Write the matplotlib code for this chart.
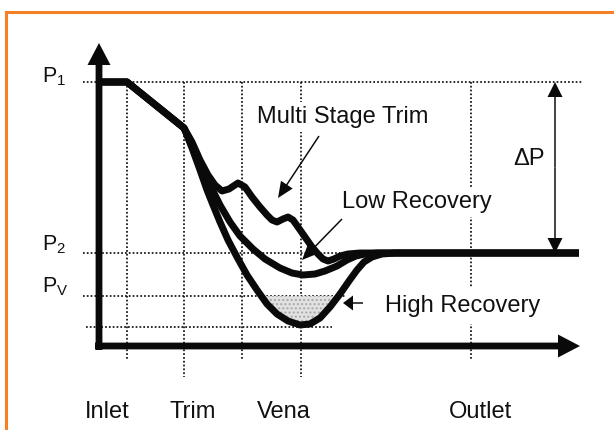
import matplotlib
matplotlib.use("Agg")
import matplotlib.pyplot as plt
from matplotlib.lines import Line2D

# ---------------- data (x = position along the valve, y = pressure, arbitrary units) ----------
# pressure levels
P1 = 264
P2 = 93
PV = 50
PMIN = 19

# stations (vertical dotted guides) and their lower ends
station_x = [28, 85, 143, 202, 372]
station_bottom = [-14, -31, -14, -31, -13]

# bottom labels
bottom_labels = ["Inlet", "Trim", "Vena", "Outlet"]
bottom_label_x = [8, 94, 185, 381]

# common inlet part of every profile
common_x = [0, 28, 85]
common_y = [264, 264, 218]

# multi stage trim profile
multi_x = [93, 101, 109, 116, 123, 130, 139, 146, 153, 161, 168, 173, 178, 184, 189, 194,
           199, 206, 213, 219, 224, 229, 235, 241, 249, 261, 480]
multi_y = [204, 186, 171, 161, 155, 157, 163, 159, 149, 139, 131, 126, 124, 127, 129, 126,
           119, 109, 99, 92, 87, 85, 87, 90, 92, 93, 93]

# low recovery profile
low_x = [93, 101, 111, 121, 131, 141, 154, 166, 181, 193, 204, 216, 226, 238, 248, 257,
         266, 279, 480]
low_y = [201, 183, 161, 141, 124, 110, 97, 87, 78, 73, 71, 72, 75, 80, 86, 90,
         92, 93, 93]

# high recovery profile
high_x = [93, 101, 108, 114, 121, 129, 138, 148, 158, 168, 178, 189, 201, 211, 221, 231,
          241, 250, 258, 265, 273, 283, 296, 480]
high_y = [198, 176, 156, 141, 124, 106, 89, 71, 56, 42, 32, 25, 21, 22, 28, 39,
          52, 65, 76, 84, 89, 92, 93, 93]

# dotted level guides: (level, x start, x end)
level_values = [P1, P2, PV, PMIN]
level_x0 = [-16, -16, -16, -13]
level_x1 = [483, 241, 246, 233]

# axis extents
x_axis_end = 481
y_axis_end = 303

# ---------------- figure ----------------
FONT = "Liberation Sans"
plt.rcParams["font.family"] = [FONT, "DejaVu Sans"]
plt.rcParams["mathtext.fontset"] = "custom"
plt.rcParams["mathtext.rm"] = FONT
plt.rcParams["mathtext.it"] = FONT + ":italic"

fig = plt.figure(figsize=(6.14, 4.30), dpi=100)
fig.patch.set_facecolor("white")
ax = fig.add_axes([0, 0, 1, 1])
ax.set_xlim(-99, 515)
ax.set_ylim(-84, 346)
ax.axis("off")

INK = "#0a0a0a"
DOT = dict(color="#111111", lw=1.25, linestyle=(0, (1, 1.2)), zorder=1)

# orange frame (top and left only)
fig.add_artist(Line2D([0.009, 1.0], [0.972, 0.972], transform=fig.transFigure,
                      color="#f58025", lw=2.2))
fig.add_artist(Line2D([0.0105, 0.0105], [0.972, 0.0], transform=fig.transFigure,
                      color="#f58025", lw=2.2))

# dotted guides
for lv, a, b in zip(level_values, level_x0, level_x1):
    ax.plot([a, b], [lv, lv], **DOT)
for sx, sb in zip(station_x, station_bottom):
    ax.plot([sx, sx], [P1, sb], **DOT)

# shaded cavitation zone (high recovery below Pv)
hx = common_x[-1:] + high_x
hy = common_y[-1:] + high_y
ax.fill_between(hx, hy, PV, where=[v < PV for v in hy], interpolate=True,
                facecolor="#e2e2e2", edgecolor="#a8a8a8", hatch="....", lw=0, zorder=2)

# profiles
CURVE = dict(color=INK, lw=5.0, solid_joinstyle="round", solid_capstyle="butt", zorder=4)
for bx, by in [(multi_x, multi_y), (low_x, low_y), (high_x, high_y)]:
    ax.plot(common_x + bx, common_y + by, **CURVE)

# axes with arrow heads
ax.arrow(0, -4, 0, y_axis_end + 4, width=6.8, head_width=23, head_length=22,
         length_includes_head=True, fc=INK, ec="none", lw=0, zorder=5)
ax.arrow(-4, 0, x_axis_end + 4, 0, width=6.8, head_width=23, head_length=22,
         length_includes_head=True, fc=INK, ec="none", lw=0, zorder=5)

# delta P double arrow
dp_x = 456
mid = (P1 + P2) / 2
for end in (P1, P2):
    ax.arrow(dp_x, mid, 0, end - mid, width=1.5, head_width=15, head_length=15,
             length_includes_head=True, fc=INK, ec="none", lw=0, zorder=5)

# pointer arrows: (tail x, tail y, tip x, tip y)
pointers = [(220, 210, 179, 148), (243, 127, 203, 86), (264, 43, 244, 43)]
pointer_heads = [(14, 16), (14, 16), (15, 10)]
for (x0, y0, x1, y1), (hw, hl) in zip(pointers, pointer_heads):
    ax.arrow(x0, y0, x1 - x0, y1 - y0, width=1.5, head_width=hw, head_length=hl,
             length_includes_head=True, fc=INK, ec="none", lw=0, zorder=6)

# texts
TXT = dict(fontsize=17, color="#111111", va="baseline", zorder=3)
box = dict(facecolor="white", edgecolor="none", pad=3)
ax.text(158, 223, "Multi Stage Trim", bbox=box, **TXT)
ax.text(243, 138, "Low Recovery", bbox=box, **TXT)
ax.text(286, 34, "High Recovery", bbox=dict(facecolor="white", edgecolor="none", pad=5), **TXT)
ax.text(414, 181, "\u0394P", **TXT)

PTXT = dict(fontsize=15.5, color="#111111", va="baseline")
ax.text(-57, 264, r"P$_{\mathrm{1}}$", **PTXT)
ax.text(-57, 96, r"P$_{\mathrm{2}}$", **PTXT)
ax.text(-57, 54, r"P$_{\mathrm{V}}$", **PTXT)

for lab, lx in zip(bottom_labels, bottom_label_x):
    ax.text(lx, -72, lab, ha="center", **TXT)

fig.savefig("out.png", dpi=100, facecolor="white")
